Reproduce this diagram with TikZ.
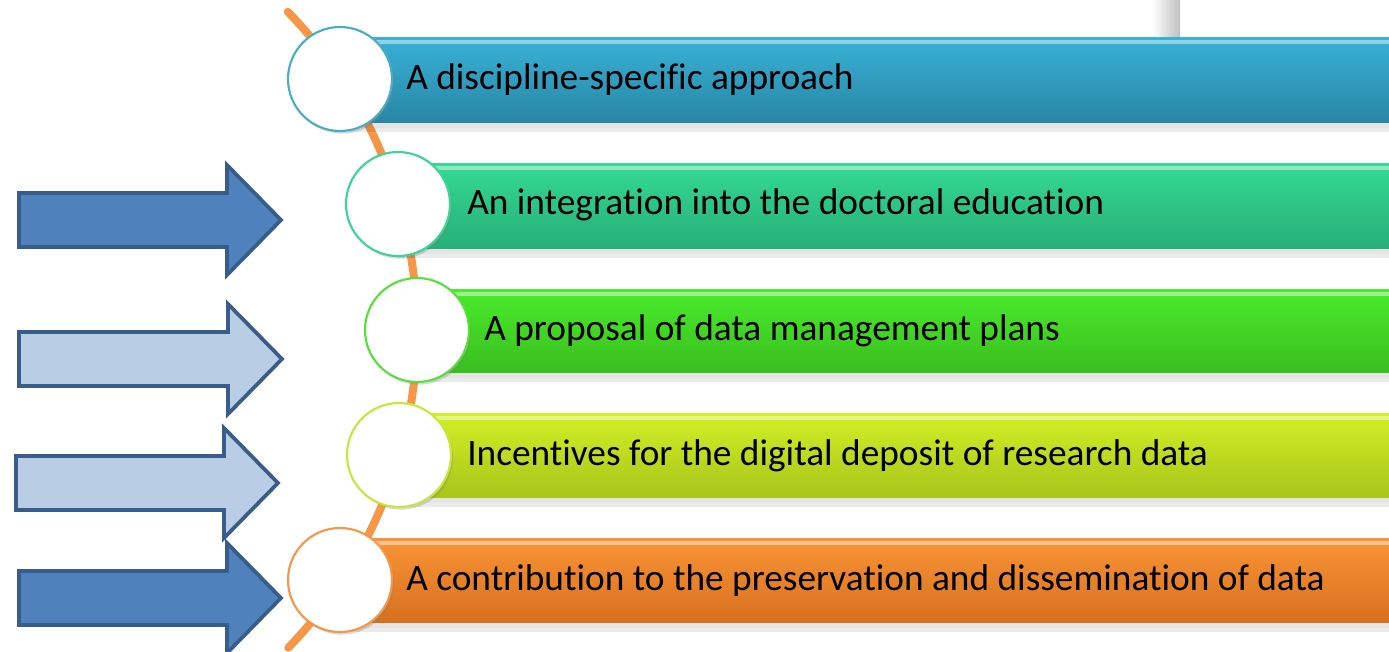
\documentclass[tikz,border=0pt]{standalone}
\usepackage{fontspec}
\setmainfont[Ligatures={NoCommon}]{Carlito}
\usetikzlibrary{shadows}
\definecolor{arcorange}{HTML}{F79646}
\definecolor{b1t}{HTML}{38B2D6}\definecolor{b1b}{HTML}{2886A6}\definecolor{b1e}{HTML}{4BACC6}
\definecolor{b2t}{HTML}{34DA94}\definecolor{b2b}{HTML}{26AE76}\definecolor{b2e}{HTML}{3CD596}
\definecolor{b3t}{HTML}{4AEC2C}\definecolor{b3b}{HTML}{3ABE1E}\definecolor{b3e}{HTML}{56E03A}
\definecolor{b4t}{HTML}{D2F026}\definecolor{b4b}{HTML}{A8C41A}\definecolor{b4e}{HTML}{C8E63C}
\definecolor{b5t}{HTML}{FA9436}\definecolor{b5b}{HTML}{D6701E}\definecolor{b5e}{HTML}{F79646}
\definecolor{adark}{HTML}{4F81BD}\definecolor{alight}{HTML}{B9CDE5}\definecolor{aedge}{HTML}{385D8A}
\tikzset{
  ball/.style={circle, minimum size=78pt, inner sep=0pt, fill=white, line width=1.6pt,
     drop shadow={shadow xshift=1.5pt, shadow yshift=-2pt, opacity=0.3}},
  label/.style={anchor=west, inner sep=0pt, font=\fontsize{28}{33}\selectfont},
  blockarrow/.style={draw=aedge, line width=2.8pt, line join=miter},
}
% #1 left x, #2 centre y, #3 fill colour, #4 x offset
\newcommand\myarrow[4]{%
  \filldraw[blockarrow, fill=#3] (#1,#2-27) -- (227+#4,#2-27) -- (227+#4,#2-55) -- (281+#4,#2)
     -- (227+#4,#2+55) -- (227+#4,#2+27) -- (#1,#2+27) -- cycle;}
% #1 left x, #2 top, #3 bottom, #4 top col, #5 bottom col
\newcommand\mybar[5]{%
  \fill[black, opacity=0.10] (#1,#3) rectangle (1389,#3+6);
  \fill[black, opacity=0.08] (#1,#3+6) rectangle (1389,#3+10);
  \shade[top color=#4, bottom color=#5] (#1,#2) rectangle (1389,#3);
  \fill[white, opacity=0.45] (#1,#2+3) rectangle (1389,#2+7);}
\begin{document}
\begin{tikzpicture}[x=0.75pt,y=-0.75pt]
\useasboundingbox (0,0) rectangle (1389,651);
% faint grey strip at top
\shade[left color=white, right color=black!25] (1152,0) rectangle (1180,37);
% orange arc
\draw[arcorange, line width=6pt, line cap=round]
  plot[domain=-44.2:44.1, samples=80] ({-39.5+456.5*cos(\x)},{330+456.5*sin(\x)});
% bars
\mybar{340}{37}{122}{b1t}{b1b}
\mybar{398}{163}{248}{b2t}{b2b}
\mybar{417}{289}{372}{b3t}{b3b}
\mybar{399}{413}{497}{b4t}{b4b}
\mybar{340}{538}{622}{b5t}{b5b}
% circles
\node[ball, draw=b1e] (c1) at (340,79) {};
\node[ball, draw=b2e] (c2) at (398,204) {};
\node[ball, draw=b3e] (c3) at (417,330) {};
\node[ball, draw=b4e] (c4) at (399,455) {};
\node[ball, draw=b5e] (c5) at (340,580) {};
% labels
\node[label] (t1) at (406,80) {A discipline-specific approach};
\node[label] (t2) at (467,205) {An integration into the doctoral education};
\node[label] (t3) at (484,331) {A proposal of data management plans};
\node[label] (t4) at (467,456) {Incentives for the digital deposit of research data};
\node[label] (t5) at (406,581) {A contribution to the preservation and dissemination of data};
% arrows
\myarrow{19}{220}{adark}{0}
\myarrow{19}{359}{alight}{1}
\myarrow{16}{483}{alight}{-3}
\myarrow{19}{598}{adark}{0}
\end{tikzpicture}
\end{document}
